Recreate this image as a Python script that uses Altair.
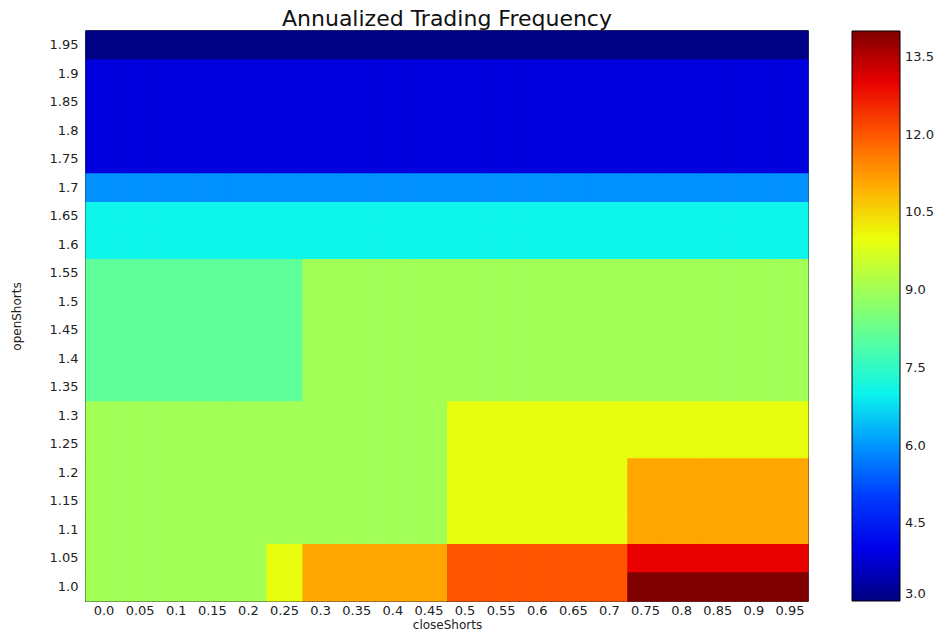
import altair as alt
import pandas as pd

# closeShorts categories (x, left to right)
close_shorts = ["0.0", "0.05", "0.1", "0.15", "0.2", "0.25", "0.3", "0.35", "0.4", "0.45",
                "0.5", "0.55", "0.6", "0.65", "0.7", "0.75", "0.8", "0.85", "0.9", "0.95"]
# openShorts categories (y, top to bottom)
open_shorts = ["1.95", "1.9", "1.85", "1.8", "1.75", "1.7", "1.65", "1.6", "1.55", "1.5",
               "1.45", "1.4", "1.35", "1.3", "1.25", "1.2", "1.15", "1.1", "1.05", "1.0"]

# annualized trading frequency, one row per openShorts value (top to bottom)
freq_rows = [
    [3.05] * 20,                                            # 1.95
    [3.9] * 20,                                             # 1.9
    [3.9] * 20,                                             # 1.85
    [3.9] * 20,                                             # 1.8
    [3.9] * 20,                                             # 1.75
    [5.93] * 20,                                            # 1.7
    [7.02] * 20,                                            # 1.65
    [7.02] * 20,                                            # 1.6
    [8.1] * 6 + [9.0] * 14,                                 # 1.55
    [8.1] * 6 + [9.0] * 14,                                 # 1.5
    [8.1] * 6 + [9.0] * 14,                                 # 1.45
    [8.1] * 6 + [9.0] * 14,                                 # 1.4
    [8.1] * 6 + [9.0] * 14,                                 # 1.35
    [9.0] * 10 + [9.95] * 10,                               # 1.3
    [9.0] * 10 + [9.95] * 10,                               # 1.25
    [9.0] * 10 + [9.95] * 5 + [11.08] * 5,                  # 1.2
    [9.0] * 10 + [9.95] * 5 + [11.08] * 5,                  # 1.15
    [9.0] * 10 + [9.95] * 5 + [11.08] * 5,                  # 1.1
    [9.0] * 5 + [9.95] + [11.08] * 4 + [12.03] * 5 + [13.0] * 5,   # 1.05
    [9.0] * 5 + [9.95] + [11.08] * 4 + [12.03] * 5 + [14.0] * 5,   # 1.0
]

colorbar_ticks = [3.0, 4.5, 6.0, 7.5, 9.0, 10.5, 12.0, 13.5]

records = []
for yi, ylab in enumerate(open_shorts):
    for xi, xlab in enumerate(close_shorts):
        v = freq_rows[yi][xi]
        records.append({"closeShorts": xlab, "openShorts": ylab, "freq": v, "freq_edge": v})
df = pd.DataFrame(records)

# matplotlib "jet" colormap stops
jet_t = [0.0, 0.11, 0.125, 0.34, 0.35, 0.375, 0.64, 0.65, 0.66, 0.89, 0.91, 1.0]
jet_c = ["#000080", "#0000ff", "#0000ff", "#00dbff", "#00e6f7", "#15ffe2",
         "#eeff08", "#f7f500", "#ffec00", "#ff1300", "#e80000", "#800000"]
vmin, vmax = 3.0, 14.0
jet_domain = [vmin + (vmax - vmin) * t for t in jet_t]

font = "DejaVu Sans"

x_enc = alt.X("closeShorts:O", sort=close_shorts,
              scale=alt.Scale(paddingInner=0, paddingOuter=0),
              axis=alt.Axis(title="closeShorts", labelAngle=0, labelFontSize=13, labelFont=font,
                            labelColor="#222222", labelPadding=3, labelOverlap=False,
                            ticks=False, domain=False, titleFont=font, titleFontSize=12,
                            titleFontWeight="normal", titleColor="#222222", titlePadding=2))
y_enc = alt.Y("openShorts:O", sort=open_shorts,
              scale=alt.Scale(paddingInner=0, paddingOuter=0),
              axis=alt.Axis(title="openShorts", labelFontSize=13, labelFont=font,
                            labelColor="#222222", labelPadding=8, labelOverlap=False,
                            ticks=False, domain=False, titleFont=font, titleFontSize=12,
                            titleFontWeight="normal", titleColor="#222222", titlePadding=26))

base = alt.Chart(df)

# under-layer of cell outlines in the cell colour, hides anti-aliasing seams
edges = base.mark_rect(filled=False, strokeWidth=1).encode(
    x=x_enc, y=y_enc,
    color=alt.Color("freq_edge:Q",
                    scale=alt.Scale(domain=jet_domain, range=jet_c, interpolate="rgb"),
                    legend=None),
)

cells = base.mark_rect().encode(
    x=x_enc, y=y_enc,
    color=alt.Color("freq:Q",
                    scale=alt.Scale(domain=jet_domain, range=jet_c, interpolate="rgb"),
                    legend=alt.Legend(type="gradient", title=None, orient="none",
                                      legendX=766, legendY=0,
                                      direction="vertical", gradientLength=570,
                                      gradientThickness=48, gradientStrokeColor="black",
                                      gradientStrokeWidth=1, values=colorbar_ticks,
                                      format=".1f", labelFontSize=13, labelFont=font,
                                      labelColor="#222222", labelOffset=5)),
)

chart = alt.layer(edges, cells).resolve_scale(color="independent").properties(
    width=722,
    height=570,
    title=alt.TitleParams("Annualized Trading Frequency", fontSize=22, font=font,
                          fontWeight="normal", color="#111111", anchor="middle", offset=0),
    autosize=alt.AutoSizeParams(type="none"),
    padding={"left": 78, "top": 23, "right": 132, "bottom": 31},
).configure_view(stroke="black", strokeWidth=1.5)

chart.save("out.html", embed_options={"renderer": "svg", "actions": False})
